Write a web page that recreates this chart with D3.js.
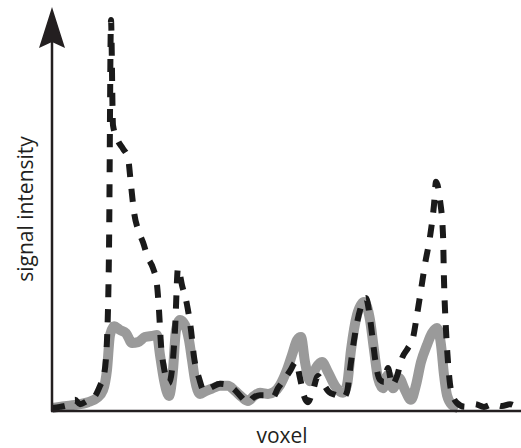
<!DOCTYPE html>
<html>
<head>
<meta charset="utf-8">
<script src="https://cdn.jsdelivr.net/npm/d3@7"></script>
<style>
  html, body { margin: 0; padding: 0; background: #fff; }
  svg { display: block; }
</style>
</head>
<body>
<svg id="chart" width="521" height="448"></svg>
<script>
// ---- data ----
const dashVoxel = [0, 2, 4, 5.75, 7, 8.75, 10.75, 12, 13, 13.75, 14.25, 14.75, 15.25, 16.5, 17.75, 19, 19.75, 20.5, 21.75, 22.75, 24, 25.25, 26.25, 26.75, 27.25, 28, 29.25, 30, 30.75, 31.5, 32.5, 33.75, 34.75, 35.5, 36.75, 38, 40, 42, 44, 45.75, 47.5, 49, 50.25, 52, 54, 55.25, 56.5, 58, 59.5, 61, 62, 63, 64, 65.25, 66.5, 67.75, 69.25, 71, 72.75, 73.75, 74.5, 75.5, 77, 78.5, 79.5, 80.25, 81, 82, 83, 84, 85, 86.25, 87.5, 89, 90.25, 91.25, 92.25, 93.25, 94.5, 95.5, 96, 97, 97.75, 98, 98.5, 99, 99.75, 101.25, 103.25, 105.75, 108, 110.25, 112.5, 114.5, 116.5];
const dashSignal = [0.5, 0.8, 1.3, 2.6, 1.5, 2.3, 3.6, 6.2, 9, 18, 41, 100, 73, 69, 67, 64.6, 57.7, 50.8, 45.6, 43, 39, 36.4, 32, 25.6, 16.7, 10.8, 6.9, 10.3, 20.5, 36.4, 32, 27, 20.5, 13.6, 8.2, 4.9, 5.9, 6.7, 6.4, 5.1, 3.1, 1.8, 3.1, 3.8, 3.8, 3.3, 5.6, 7.7, 10, 12.3, 8.2, 3.6, 2, 5.1, 8.7, 6.9, 4.6, 3.8, 3.1, 4.6, 10.3, 17.9, 25.6, 28.7, 23.6, 17.4, 11.5, 7.7, 7.2, 10.8, 6.4, 8.7, 13.3, 15.9, 18.5, 24.4, 30.8, 37.4, 44.4, 52.6, 58.5, 53.8, 44.9, 33.3, 20.5, 12.3, 5.1, 1.8, 0.8, 1.5, 0.8, 1.5, 1, 1.5, 0.5];

const grayVoxel = [0, 3.25, 5.75, 9, 11.25, 12.75, 13.75, 14.5, 15.5, 17, 18.5, 20, 21.5, 23.25, 25, 26.25, 27, 28, 29.25, 30.25, 31, 32, 33.25, 34.25, 35, 35.75, 37, 38.5, 40.25, 42, 44, 45.75, 47.5, 49, 50.5, 52, 54, 55.5, 57, 58.75, 60, 61.25, 62.25, 63.25, 64.5, 66, 67.5, 69, 70.75, 72.75, 73.75, 74.75, 76.25, 78, 79.5, 80.5, 81.5, 82.75, 84, 85.25, 86.75, 88.25, 89.75, 91, 92.25, 93.75, 95, 96.25, 97.25, 98, 98.75, 100, 101.5];
const graySignal = [0.5, 1, 1.3, 2, 3.1, 5.1, 10.3, 19.2, 21.5, 20.5, 19.7, 17.2, 17.4, 18.7, 19, 19.2, 14.1, 7.7, 3.6, 10.3, 20.5, 23.1, 21.8, 17.9, 12.8, 7.7, 4.1, 4.9, 5.6, 6.2, 6.2, 4.9, 3.3, 2.3, 3.6, 4.4, 4.1, 4.6, 6.4, 10.3, 14.1, 17.9, 18.7, 12.3, 7.4, 10.8, 12.3, 9.7, 6.2, 4.4, 6.4, 15.4, 24.4, 27.7, 23.1, 15.4, 8.2, 5.6, 9, 5.6, 8.2, 5.1, 2.6, 6.4, 12.3, 16.7, 19.7, 21, 16.7, 9, 3.8, 1.3, 0.5];

const xLabel = "voxel";
const yLabel = "signal intensity";

// ---- drawing ----
const svg = d3.select("#chart");
const x0 = 52, x1 = 520, yBase = 410, yTop = 20;

const x = d3.scaleLinear().domain([0, 117]).range([x0, x1]);
const y = d3.scaleLinear().domain([0, 100]).range([yBase, yTop]);

const line = d3.line().x(d => x(d[0])).y(d => y(d[1])).curve(d3.curveMonotoneX);

const grayData = d3.zip(grayVoxel, graySignal);
const dashData = d3.zip(dashVoxel, dashSignal);

svg.append("path")
  .attr("d", line(grayData))
  .attr("fill", "none")
  .attr("stroke", "#9a9a9a")
  .attr("stroke-width", 10)
  .attr("stroke-linejoin", "round");

svg.append("path")
  .attr("d", line(dashData))
  .attr("fill", "none")
  .attr("stroke", "#1a1a1a")
  .attr("stroke-width", 6)
  .attr("stroke-dasharray", "13,12")
  .attr("stroke-linejoin", "round");

// axes
svg.append("line")
  .attr("x1", x0).attr("x2", x0)
  .attr("y1", yBase + 1.5).attr("y2", 30)
  .attr("stroke", "#231f20").attr("stroke-width", 2.5);
svg.append("line")
  .attr("x1", x0 - 1).attr("x2", x1 + 1)
  .attr("y1", yBase + 1).attr("y2", yBase + 1)
  .attr("stroke", "#231f20").attr("stroke-width", 2.5);

// arrow head
svg.append("path")
  .attr("d", `M${x0},7 L${x0 + 13},48 L${x0},42 L${x0 - 13},48 Z`)
  .attr("fill", "#231f20");

// labels
svg.append("text")
  .attr("transform", `translate(33,209) rotate(-90)`)
  .attr("text-anchor", "middle")
  .attr("font-family", "'Open Sans', sans-serif")
  .attr("font-size", 21)
  .attr("fill", "#231f20")
  .text(yLabel);

svg.append("text")
  .attr("x", 282).attr("y", 443)
  .attr("text-anchor", "middle")
  .attr("font-family", "'Open Sans', sans-serif")
  .attr("font-size", 21)
  .attr("fill", "#231f20")
  .text(xLabel);
</script>
</body>
</html>
